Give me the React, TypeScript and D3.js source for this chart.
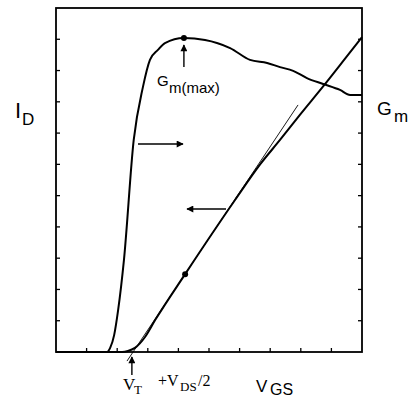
import React from "react";
import * as d3 from "d3";

// Gate voltage in tick divisions (0..10), currents / transconductance in tick divisions (0..11)
const gmCurve: [number, number][] = [
  [0, 0], [1.67, 0], [1.77, 0.13], [1.9, 0.54], [2.03, 1.34], [2.22, 2.94],
  [2.54, 6.78], [2.84, 8.47], [3.07, 9.34], [3.33, 9.66], [3.56, 9.88],
  [4.18, 10.04], [4.87, 9.98], [5.69, 9.72], [6.34, 9.34], [6.9, 9.24],
  [7.32, 9.11], [7.75, 8.99], [8.2, 8.76], [8.73, 8.57], [9.28, 8.38],
  [9.61, 8.22], [10, 8.22],
];

const idCurve: [number, number][] = [
  [0, 0], [2.16, 0], [2.35, 0.03], [2.58, 0.13], [2.91, 0.48], [3.24, 1.02],
  [4.22, 2.49], [5.85, 4.86], [6.67, 6.0], [7.32, 6.78], [7.97, 7.58],
  [8.73, 8.49], [9.44, 9.37], [10, 10.07],
];

// Tangent to I_D at the G_m(max) point, extrapolated to the V_GS axis
const tangentLine: [number, number][] = [[2.32, -0.29], [7.91, 7.9]];

const gmMaxPoint: [number, number] = [4.18, 10.04];
const idAtGmMax: [number, number] = [4.22, 2.49];
const thresholdX = 2.48;

const xTicks = d3.range(1, 10);
const yTicks = d3.range(1, 11);

const W = 413;
const H = 398;
const left = 56, right = 362, top = 8, bottom = 352;

export default function App() {
  const x = d3.scaleLinear().domain([0, 10]).range([left, right]);
  const y = d3.scaleLinear().domain([0, 11]).range([bottom, top]);
  const line = d3
    .line<[number, number]>()
    .x((d) => x(d[0]))
    .y((d) => y(d[1]))
    .curve(d3.curveMonotoneX);
  const straight = d3
    .line<[number, number]>()
    .x((d) => x(d[0]))
    .y((d) => y(d[1]));

  const sans = "'Liberation Sans', Arial, sans-serif";
  const serif = "'Liberation Serif', 'Times New Roman', serif";
  const tick = 4;

  return (
    <svg
      width={W}
      height={H}
      viewBox={`0 0 ${W} ${H}`}
      style={{ position: "absolute", left: 0, top: 0, background: "#fff" }}
    >
      <defs>
        <marker id="head" viewBox="0 0 10 10" refX="9" refY="5" markerWidth="9" markerHeight="7" markerUnits="userSpaceOnUse" orient="auto">
          <path d="M0,0 L10,5 L0,10 z" fill="#000" />
        </marker>
      </defs>

      {/* frame */}
      <rect x={left} y={top} width={right - left} height={bottom - top} fill="none" stroke="#000" strokeWidth={1.8} />

      {/* inward ticks */}
      {xTicks.map((t) => (
        <line key={`xt${t}`} x1={x(t)} x2={x(t)} y1={bottom} y2={bottom - tick} stroke="#000" strokeWidth={1.3} />
      ))}
      {yTicks.map((t) => (
        <g key={`yt${t}`}>
          <line x1={left} x2={left + tick} y1={y(t)} y2={y(t)} stroke="#000" strokeWidth={1.3} />
          <line x1={right} x2={right - tick} y1={y(t)} y2={y(t)} stroke="#000" strokeWidth={1.3} />
        </g>
      ))}

      {/* curves */}
      <path d={straight(tangentLine) ?? ""} fill="none" stroke="#000" strokeWidth={0.9} />
      <path d={line(gmCurve) ?? ""} fill="none" stroke="#000" strokeWidth={2} />
      <path d={line(idCurve) ?? ""} fill="none" stroke="#000" strokeWidth={2} />

      <circle cx={x(gmMaxPoint[0])} cy={y(gmMaxPoint[1])} r={3} fill="#000" />
      <circle cx={x(idAtGmMax[0])} cy={y(idAtGmMax[1])} r={3} fill="#000" />

      {/* curve-to-axis arrows */}
      <line x1={138} y1={144} x2={183} y2={144} stroke="#000" strokeWidth={1.6} markerEnd="url(#head)" />
      <line x1={226} y1={209} x2={187} y2={209} stroke="#000" strokeWidth={1.6} markerEnd="url(#head)" />

      {/* G_m(max) marker */}
      <line x1={x(gmMaxPoint[0])} y1={67} x2={x(gmMaxPoint[0])} y2={45} stroke="#000" strokeWidth={1.4} markerEnd="url(#head)" />
      <text x={157} y={86} fontFamily={sans} fontSize={15}>G</text>
      <text x={169} y={93} fontFamily={sans} fontSize={15}>m(max)</text>

      {/* V_T marker */}
      <line x1={x(thresholdX)} y1={375} x2={x(thresholdX)} y2={357} stroke="#000" strokeWidth={1.4} markerEnd="url(#head)" />
      <text x={123} y={390} fontFamily={serif} fontSize={17}>V</text>
      <text x={134} y={394} fontFamily={serif} fontSize={13}>T</text>
      <text x={158} y={386} fontFamily={serif} fontSize={16}>+V</text>
      <text x={180} y={391} fontFamily={serif} fontSize={13}>DS</text>
      <text x={198} y={386} fontFamily={serif} fontSize={16}>/2</text>

      {/* axis titles */}
      <text x={256} y={392} fontFamily={sans} fontSize={17}>V</text>
      <text x={270} y={395} fontFamily={sans} fontSize={16}>GS</text>

      <text x={15} y={118} fontFamily={sans} fontSize={22}>I</text>
      <text x={22} y={125} fontFamily={sans} fontSize={17}>D</text>

      <text x={377} y={115} fontFamily={sans} fontSize={19}>G</text>
      <text x={394} y={122} fontFamily={sans} fontSize={17}>m</text>
    </svg>
  );
}
